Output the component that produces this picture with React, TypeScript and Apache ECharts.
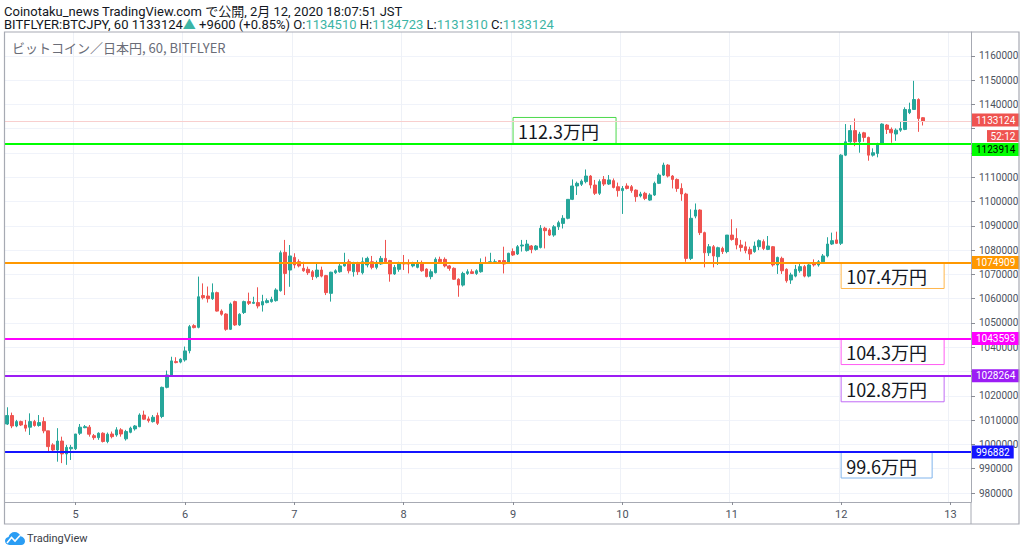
import React, { useEffect, useRef } from 'react';
import * as echarts from 'echarts';

// ---------- data ----------
const startHourJST = Date.UTC(2020, 1, 4, 9); // first candle: Feb 4 09:00 JST
const slotCount = 212; // hourly slots on the axis (data + empty right margin)

const opens = [
  1008400, 1011900, 1007600, 1009400, 1008000, 1007100, 1009400, 1007800, 1009400, 1005600,
  999800, 997700, 1001400, 996100, 998200, 998200, 1004600, 1006900, 1007100, 1003600,
  1002800, 1004600, 1001200, 1004300, 1003900, 1006000, 1002300, 1005000, 1006400, 1007300,
  1012100, 1010500, 1009400, 1011900, 1011500, 1023500, 1028600, 1034100, 1033900, 1034800,
  1038600, 1048900, 1048200, 1061300, 1061100, 1060000, 1062500, 1054900, 1053700, 1047400,
  1058800, 1049200, 1054300, 1058800, 1058100, 1058400, 1057400, 1058400, 1058800, 1059200,
  1063300, 1079100, 1071800, 1077000, 1075200, 1072500, 1072100, 1071100, 1069100, 1071800,
  1069500, 1062200, 1070700, 1071100, 1073500, 1075200, 1071100, 1074600, 1070700, 1073900,
  1075200, 1072900, 1074300, 1076600, 1075700, 1070200, 1072100, 1074800, 1074600, 1073500,
  1072900, 1074600, 1072200, 1069100, 1070700, 1076200, 1076200, 1073500, 1072500, 1068000,
  1065600, 1070400, 1071100, 1070400, 1071100, 1074800, 1074800, 1074800, 1075700, 1075700,
  1074800, 1079400, 1078400, 1081700, 1079800, 1081700, 1080300, 1081100, 1089000, 1088300,
  1086200, 1089600, 1091000, 1093100, 1100900, 1106400, 1107100, 1108200, 1110500, 1106800,
  1103400, 1109100, 1107200, 1108600, 1106100, 1104500, 1106400, 1106100, 1104700, 1102300,
  1103400, 1100600, 1102700, 1107500, 1110900, 1115000, 1110500, 1109100, 1105400, 1103100,
  1076600, 1094000, 1096500, 1087200, 1078900, 1081400, 1077300, 1080700, 1079400, 1086200,
  1084800, 1082100, 1081400, 1080300, 1079400, 1081400, 1083500, 1080300, 1081400, 1073900,
  1076600, 1072100, 1067700, 1069300, 1071500, 1073200, 1069300, 1074800, 1073900, 1075200,
  1077600, 1082500, 1084200, 1082800, 1119100, 1124600, 1129200, 1124600, 1128300, 1126400,
  1119100, 1119800, 1123700, 1131500, 1129700, 1127800, 1129400, 1129700, 1136600, 1137900,
  1142000, 1134510,
];

const closes = [
  1011900, 1007600, 1009400, 1008000, 1006700, 1009400, 1007800, 1009000, 1005600, 999100,
  997700, 1001400, 996100, 998800, 998800, 1004300, 1007100, 1007300, 1004200, 1002800,
  1004600, 1001200, 1004200, 1003200, 1006000, 1004300, 1005300, 1006700, 1007600, 1012100,
  1010400, 1009800, 1011200, 1008700, 1023500, 1028600, 1034400, 1033700, 1035100, 1038500,
  1048500, 1048100, 1060800, 1060400, 1060000, 1062500, 1054900, 1053600, 1047400, 1057800,
  1049200, 1053600, 1058800, 1058100, 1058500, 1057000, 1058800, 1059200, 1059700, 1063600,
  1078900, 1070400, 1077600, 1073900, 1073500, 1071500, 1070700, 1069100, 1071800, 1069300,
  1062500, 1070900, 1071500, 1073500, 1074600, 1071500, 1074600, 1071100, 1075200, 1076600,
  1072900, 1074600, 1076600, 1075200, 1070200, 1072900, 1074600, 1074300, 1074300, 1074600,
  1074800, 1071500, 1069100, 1071100, 1076200, 1075200, 1073500, 1072500, 1068000, 1065600,
  1070400, 1071100, 1070400, 1071500, 1074800, 1074600, 1075200, 1075200, 1074800, 1074300,
  1078700, 1078000, 1081400, 1082100, 1082500, 1080300, 1081700, 1089000, 1088000, 1086200,
  1089600, 1091300, 1093100, 1100900, 1106400, 1107500, 1108400, 1110500, 1106800, 1103400,
  1108200, 1107200, 1108900, 1105800, 1104500, 1105400, 1105400, 1104500, 1102000, 1103100,
  1101300, 1102700, 1107500, 1110900, 1115000, 1110500, 1109100, 1105400, 1103100, 1076600,
  1093100, 1096500, 1087200, 1078900, 1081400, 1077600, 1081000, 1079400, 1086200, 1084400,
  1082100, 1081100, 1079800, 1078400, 1081700, 1083900, 1080700, 1081700, 1073900, 1077000,
  1071500, 1067400, 1069800, 1072100, 1073200, 1069300, 1073900, 1073900, 1075200, 1077600,
  1082500, 1083900, 1082800, 1119100, 1124600, 1129200, 1124600, 1127800, 1126400, 1119100,
  1120100, 1123700, 1131900, 1129700, 1128300, 1129400, 1130100, 1137900, 1137900, 1142000,
  1134200, 1133124,
];

const lows = [
  1008000, 1006700, 1007100, 1007600, 1005300, 1003900, 1007300, 1007300, 1004600, 997100,
  997100, 992900, 992300, 991600, 993600, 997700, 1003900, 1006700, 1003200, 1001900,
  1001900, 1000800, 1000500, 1002500, 1003200, 1003200, 1001600, 1004600, 1005700, 1007100,
  1010100, 1009000, 1009000, 1008000, 1010800, 1023100, 1028300, 1033400, 1033400, 1034100,
  1037500, 1047800, 1047800, 1059700, 1058400, 1059500, 1054700, 1053000, 1046800, 1047100,
  1048800, 1048800, 1053700, 1057400, 1057800, 1056000, 1054700, 1058100, 1058400, 1058800,
  1062900, 1061500, 1064900, 1072500, 1072900, 1071100, 1069800, 1067700, 1068400, 1068800,
  1061500, 1058800, 1070200, 1070700, 1073200, 1070400, 1069100, 1069800, 1070000, 1072900,
  1072100, 1072100, 1073900, 1074600, 1067000, 1069800, 1071100, 1071800, 1070400, 1072900,
  1072500, 1071100, 1068800, 1068000, 1070400, 1074600, 1072900, 1071500, 1067700, 1060800,
  1065000, 1069800, 1070200, 1069800, 1070700, 1074300, 1074600, 1074600, 1074300, 1070400,
  1074600, 1077600, 1078000, 1079400, 1079400, 1078700, 1079800, 1080700, 1080700, 1085800,
  1085500, 1088300, 1088900, 1092700, 1100600, 1102700, 1106400, 1107500, 1105400, 1102700,
  1102700, 1106400, 1106800, 1105400, 1102000, 1094900, 1105000, 1103600, 1099900, 1101700,
  1100600, 1100300, 1102300, 1107200, 1110500, 1109900, 1105400, 1104000, 1100300, 1075200,
  1075900, 1093100, 1086200, 1072900, 1077600, 1072900, 1073900, 1078400, 1078700, 1083900,
  1080300, 1079400, 1078700, 1075900, 1078900, 1080000, 1080000, 1080000, 1073200, 1070200,
  1070200, 1066600, 1066100, 1068800, 1070700, 1068800, 1068800, 1073200, 1073200, 1074600,
  1077000, 1082100, 1082500, 1082100, 1118700, 1124200, 1122800, 1120100, 1124600, 1116800,
  1118500, 1118200, 1123300, 1127800, 1124200, 1125000, 1128700, 1129400, 1136000, 1137700,
  1128700, 1131310,
];

const highs = [
  1015300, 1013100, 1010100, 1009800, 1010100, 1012800, 1010100, 1012100, 1011200, 1005600,
  1000500, 1006700, 1003200, 999800, 999800, 1004300, 1008400, 1008000, 1008000, 1004300,
  1005000, 1005000, 1004900, 1005300, 1007100, 1006700, 1006000, 1007300, 1008000, 1012800,
  1013900, 1011500, 1012100, 1013100, 1023800, 1030400, 1036100, 1035900, 1035500, 1040300,
  1049200, 1049500, 1069100, 1066300, 1065000, 1066300, 1062900, 1055600, 1054000, 1058400,
  1059200, 1054000, 1059200, 1062500, 1060800, 1064700, 1061600, 1060100, 1060800, 1064300,
  1079800, 1084200, 1082100, 1078700, 1076200, 1075200, 1073200, 1071800, 1074600, 1073200,
  1069800, 1071100, 1072100, 1074600, 1078900, 1076200, 1075200, 1075200, 1077000, 1077300,
  1077600, 1075700, 1077600, 1084200, 1076000, 1073900, 1075200, 1078000, 1076200, 1075200,
  1075900, 1075700, 1072500, 1072100, 1077000, 1077300, 1077000, 1073900, 1072900, 1068400,
  1071100, 1072100, 1072100, 1072100, 1076600, 1077300, 1078900, 1076200, 1075900, 1081400,
  1078900, 1080700, 1082100, 1084200, 1084200, 1082100, 1082100, 1090300, 1089600, 1089000,
  1090300, 1092100, 1094400, 1100900, 1109100, 1108200, 1109100, 1113200, 1110900, 1108900,
  1109100, 1110500, 1110900, 1109500, 1107800, 1106400, 1107500, 1106800, 1105000, 1104000,
  1104000, 1103400, 1108200, 1111600, 1116000, 1115400, 1110900, 1109500, 1107500, 1103600,
  1096800, 1099200, 1096800, 1087600, 1082500, 1082100, 1081400, 1081400, 1086200, 1092700,
  1089000, 1084200, 1083500, 1081400, 1083500, 1084400, 1084400, 1085800, 1081700, 1077300,
  1077300, 1072500, 1070700, 1073900, 1074600, 1073900, 1074600, 1076200, 1075900, 1078400,
  1085300, 1087200, 1087600, 1119500, 1131900, 1131500, 1134200, 1128700, 1128700, 1126700,
  1121900, 1124200, 1132200, 1131900, 1130500, 1130100, 1132900, 1138800, 1140700, 1149700,
  1142500, 1134723,
];

// tick marks every 10000; the labels hidden behind price tags in the reference are left out
const yTickValues = [
  980000, 990000, 1000000, 1010000, 1020000, 1030000, 1040000, 1050000, 1060000, 1070000,
  1080000, 1090000, 1100000, 1110000, 1120000, 1130000, 1140000, 1150000, 1160000,
];
const yLabelValues = [
  980000, 990000, 1000000, 1010000, 1020000, 1040000, 1050000, 1060000, 1070000,
  1080000, 1090000, 1100000, 1110000, 1140000, 1150000, 1160000,
];
const yMin = 976300;
const yMax = 1169800;

const levelValues = [1123914, 1074909, 1043593, 1028264, 996882];
const levelLineColors = ['#00ff00', '#ff9800', '#ff00ff', '#9c1cf5', '#1414ff'];
const levelTagText = ['#000000', '#ffffff', '#ffffff', '#ffffff', '#ffffff'];
const levelBoxText = ['112.3万円', '107.4万円', '104.3万円', '102.8万円', '99.6万円'];
const levelBoxBorder = ['#4cd94c', '#ffb74d', '#ff5cf2', '#c06bf5', '#80b4ec'];
const levelBoxIndex = [111, 183, 183, 183, 183];
const levelBoxAbove = [true, false, false, false, false];
const levelBoxWidth = [103, 103, 103, 103, 91];

const lastPrice = 1133124;
const countdownText = '52:12';

const headerLine1 = 'Coinotaku_news TradingView.com で公開, 2月 12, 2020 18:07:51 JST';
const symbolText = 'BITFLYER:BTCJPY, 60 1133124';
const changeText = ' +9600 (+0.85%)';
const ohlcLabels = ['O:', 'H:', 'L:', 'C:'];
const ohlcValues = ['1134510', '1134723', '1131310', '1133124'];
const paneTitle = 'ビットコイン／日本円, 60, BITFLYER';

// ---------- helpers ----------
const pad2 = (n: number) => (n < 10 ? '0' + n : '' + n);
const categories: string[] = Array.from({ length: slotCount }, (_, i) => {
  const d = new Date(startHourJST + i * 3600000);
  return `${d.getUTCMonth() + 1}/${d.getUTCDate()} ${pad2(d.getUTCHours())}:00`;
});
const isDayStart = (_i: number, v: string) => typeof v === 'string' && v.endsWith(' 00:00');
const dayOf = (v: string) => v.split(' ')[0].split('/')[1];

const UP = '#26a69a';
const DOWN = '#ef5350';
const FONT = 'Roboto, "Noto Sans CJK JP", sans-serif';
const JFONT = '"Noto Sans CJK JP", "Noto Sans", sans-serif';
const GRID_L = 5;
const GRID_R = 971;
const GRID_T = 32;
const GRID_B = 502;

const cloudPath =
  'M4.5 13 C2 13 0 11.1 0 8.8 C0 6.8 1.5 5.2 3.5 4.9 C4.2 2.1 6.7 0 9.7 0 C12.4 0 14.7 1.8 15.5 4.3 C18 4.6 20 6.7 20 9.2 C20 11.3 18.3 13 16.2 13 Z';
echarts.graphic.registerShape('tvcloud', echarts.graphic.extendPath(cloudPath, {}) as any);

export default function App() {
  const ref = useRef<HTMLDivElement>(null);

  useEffect(() => {
    document.body.style.margin = '0';
    const chart = echarts.init(ref.current!, null, { renderer: 'svg' });

    const candleData = opens.map((o, i) => [o, closes[i], lows[i], highs[i]]);

    const markLineData: any[] = levelValues.map((v, k) => ({
      yAxis: v,
      lineStyle: { color: levelLineColors[k], width: 2, type: 'solid' },
      label: {
        backgroundColor: levelLineColors[k],
        color: levelTagText[k],
        offset: k === 0 ? [0, 6] : [0, 0],
      },
    }));
    markLineData.unshift({
      yAxis: lastPrice,
      lineStyle: { color: '#f8cfce', width: 1, type: 'solid' },
      label: { backgroundColor: DOWN, color: '#ffffff', offset: [0, -1] },
    });

    const option: any = {
      animation: false,
      backgroundColor: '#ffffff',
      grid: { left: GRID_L, right: 1024 - GRID_R, top: GRID_T, bottom: 552 - GRID_B, containLabel: false },
      xAxis: {
        type: 'category',
        data: categories,
        boundaryGap: true,
        axisLine: { show: true, lineStyle: { color: '#a7aab3', width: 1 } },
        axisTick: { show: true, alignWithLabel: true, interval: isDayStart, length: 3, lineStyle: { color: '#8a8d96' } },
        axisLabel: { interval: isDayStart, formatter: dayOf, fontSize: 11, color: '#4c525e', margin: 7, fontFamily: FONT },
        splitLine: { show: true, interval: isDayStart, lineStyle: { color: '#eef1f7', width: 1 } },
      },
      yAxis: {
        type: 'value',
        position: 'right',
        min: yMin,
        max: yMax,
        axisLine: { show: true, lineStyle: { color: '#a7aab3', width: 1 } },
        axisTick: { show: true, customValues: yTickValues, length: 4, lineStyle: { color: '#8a8d96' } },
        axisLabel: {
          customValues: yLabelValues,
          formatter: (v: number) => String(Math.round(v)),
          fontSize: 10,
          color: '#4c525e',
          margin: 8,
          fontFamily: FONT,
        },
        splitLine: { show: true, lineStyle: { color: '#f0f3fa', width: 1 } },
      },
      series: [
        {
          type: 'candlestick',
          data: candleData,
          barWidth: '68%',
          itemStyle: { color: UP, color0: DOWN, borderColor: UP, borderColor0: DOWN, borderWidth: 1 },
          markLine: {
            silent: true,
            symbol: ['none', 'none'],
            animation: false,
            label: {
              show: true,
              position: 'end',
              distance: 1,
              fontSize: 10,
              fontFamily: FONT,
              padding: [2, 4, 1, 4],
              formatter: (p: any) => String(p.value),
            },
            data: markLineData,
          },
          z: 3,
        },
      ],
    };
    chart.setOption(option);

    const px = (i: number, v: number) => chart.convertToPixel({ gridIndex: 0 }, [i, v]) as number[];

    const graphics: any[] = [];
    // frame
    graphics.push({
      type: 'rect',
      shape: { x: 4.5, y: 32, width: 1014.5, height: 492 },
      style: { fill: 'none', stroke: '#a7aab3', lineWidth: 1.2 },
      silent: true,
      z: 50,
    });
    graphics.push({
      type: 'line',
      shape: { x1: GRID_R, y1: GRID_B, x2: GRID_R, y2: 524 },
      style: { stroke: '#a7aab3', lineWidth: 1 },
      silent: true,
      z: 50,
    });
    // header texts
    graphics.push({
      type: 'text',
      x: 4,
      y: 11,
      style: { text: headerLine1, fill: '#131722', fontSize: 13, fontFamily: FONT, verticalAlign: 'middle' },
    });
    let rich = '{d|' + symbolText + '}{t|▲}{d|' + changeText + '}';
    ohlcLabels.forEach((l, k) => {
      rich += '{d| ' + l + '}{t|' + ohlcValues[k] + '}';
    });
    graphics.push({
      type: 'text',
      x: 4,
      y: 24,
      style: {
        text: rich,
        verticalAlign: 'middle',
        fontSize: 13,
        fontFamily: FONT,
        rich: {
          d: { fill: '#131722', fontSize: 13, fontFamily: FONT },
          t: { fill: '#3cb4a5', fontSize: 13, fontFamily: FONT },
        },
      },
    });
    graphics.push({
      type: 'text',
      x: 12,
      y: 47.5,
      style: { text: paneTitle, fill: '#6a6d78', fontSize: 13, fontFamily: JFONT, verticalAlign: 'middle' },
    });

    // level boxes
    levelValues.forEach((v, k) => {
      const p = px(levelBoxIndex[k], v);
      const h = 26;
      const top = levelBoxAbove[k] ? p[1] - h : p[1];
      graphics.push({
        type: 'group',
        z: 60,
        children: [
          {
            type: 'rect',
            shape: { x: p[0], y: top, width: levelBoxWidth[k], height: h },
            style: { fill: '#ffffff', stroke: levelBoxBorder[k], lineWidth: 1 },
          },
          {
            type: 'text',
            x: p[0] + 5,
            y: top + h / 2 + 0.5,
            style: { text: levelBoxText[k], fill: '#131722', fontSize: 18, fontFamily: JFONT, verticalAlign: 'middle' },
          },
        ],
      });
    });

    // countdown tag under last price tag
    const lp = px(0, lastPrice);
    graphics.push({
      type: 'group',
      z: 60,
      children: [
        {
          type: 'rect',
          shape: { x: 987, y: lp[1] + 9, width: 32, height: 12 },
          style: { fill: DOWN },
        },
        {
          type: 'text',
          x: 1003,
          y: lp[1] + 15.5,
          style: { text: countdownText, fill: '#ffffff', fontSize: 10, fontFamily: FONT, align: 'center', verticalAlign: 'middle' },
        },
      ],
    });

    // TradingView logo
    graphics.push({
      type: 'tvcloud',
      x: 5,
      y: 532,
      scaleX: 1,
      scaleY: 1,
      style: { fill: '#2a9df4' },
    });
    graphics.push({
      type: 'polyline',
      shape: { points: [[7, 543], [11.5, 537.5], [15, 541], [20, 535.5]] },
      style: { stroke: '#ffffff', lineWidth: 1.6, fill: 'none' },
      z: 10,
    });
    graphics.push({
      type: 'text',
      x: 27,
      y: 538.5,
      style: { text: 'TradingView', fill: '#3a3d45', fontSize: 11, fontFamily: FONT, verticalAlign: 'middle' },
    });

    chart.setOption({ graphic: graphics });

    return () => chart.dispose();
  }, []);

  return <div ref={ref} style={{ position: 'fixed', left: 0, top: 0, width: 1024, height: 552 }} />;
}
